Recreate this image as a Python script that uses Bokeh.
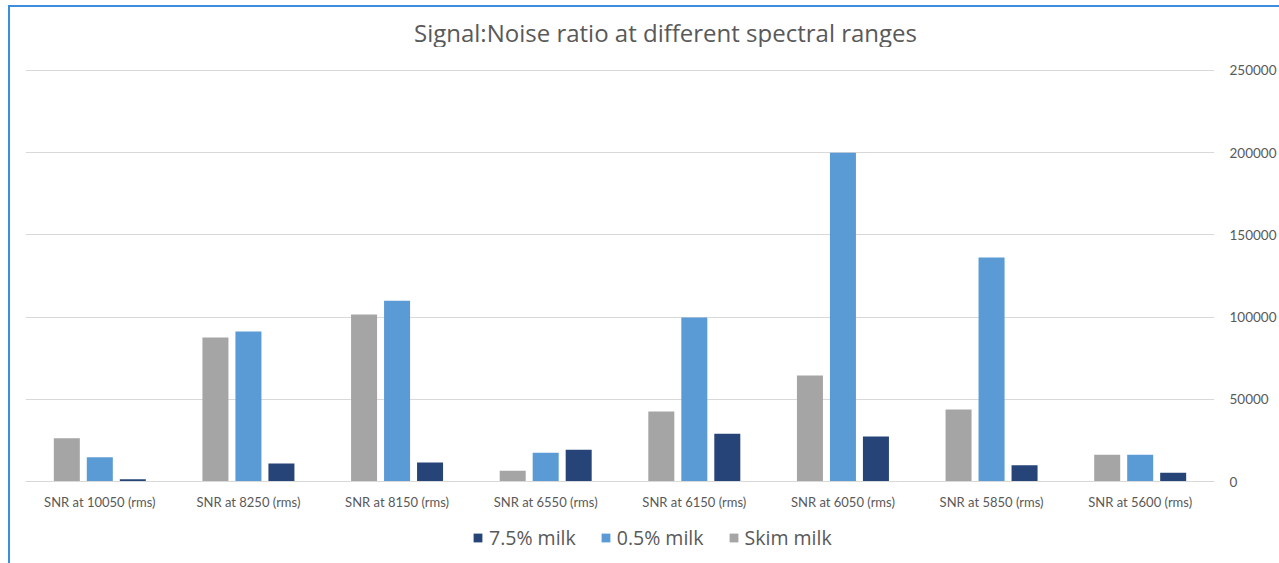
from bokeh.plotting import figure
from bokeh.layouts import column, row
from bokeh.models import (ColumnDataSource, FactorRange, Range1d, LinearAxis, Legend,
                          LegendItem, FixedTicker, NumeralTickFormatter, Spacer, Label)
from bokeh.transform import dodge
from bokeh.embed import file_html
from bokeh.resources import INLINE

# Spectral ranges (x categories)
categories = ["SNR at 10050 (rms)", "SNR at 8250 (rms)", "SNR at 8150 (rms)",
              "SNR at 6550 (rms)", "SNR at 6150 (rms)", "SNR at 6050 (rms)",
              "SNR at 5850 (rms)", "SNR at 5600 (rms)"]

# Signal:noise ratio for each sample
skim_milk = [26300, 87600, 101600, 6500, 42600, 64500, 43800, 16200]
milk_05 = [14800, 91200, 110000, 17500, 99800, 200000, 136300, 16200]
milk_75 = [1400, 10900, 11600, 19300, 29000, 27400, 9900, 5300]

series_names = ["7.5% milk", "0.5% milk", "Skim milk"]
y_ticks = [0, 50000, 100000, 150000, 200000, 250000]
chart_title = "Signal:Noise ratio at different spectral ranges"

FONT = "Lato"
TITLE_FONT = "Open Sans"
TEXT = "#595959"
GRID = "#D9D9D9"
EDGE = "#3B8EDE"
C_SKIM, C_05, C_75 = "#A5A5A5", "#5B9BD5", "#264478"


def strip(height):
    """Plain full-width figure used for the title and legend rows."""
    f = figure(width=1269, height=height, output_backend="svg", toolbar_location=None,
               x_range=Range1d(0, 1), y_range=Range1d(0, 1),
               x_axis_location=None, y_axis_location=None,
               min_border=0, outline_line_color=None)
    f.grid.visible = False
    f.background_fill_color = "white"
    f.border_fill_color = "white"
    return f


# title row
tf = strip(40)
tf.add_layout(Label(x=640, y=15, x_units="screen", y_units="screen", text=chart_title,
                    text_font=TITLE_FONT, text_font_size="24px", text_color=TEXT,
                    text_align="center", text_baseline="alphabetic"))

# main bar chart
src = ColumnDataSource(data=dict(cat=categories, skim=skim_milk, m05=milk_05, m75=milk_75))

p = figure(width=1269, height=473, output_backend="svg", toolbar_location=None,
           x_range=FactorRange(*categories, range_padding=0), y_range=Range1d(0, 250600),
           y_axis_location=None, min_border_left=15, min_border_right=64,
           min_border_top=22, min_border_bottom=39)
p.outline_line_color = None
p.background_fill_color = "white"
p.border_fill_color = "white"

bw = 0.175
step = 0.222
p.vbar(x=dodge("cat", -step, range=p.x_range), top="skim", width=bw, source=src,
       fill_color=C_SKIM, line_color=None)
p.vbar(x=dodge("cat", 0.0, range=p.x_range), top="m05", width=bw, source=src,
       fill_color=C_05, line_color=None)
p.vbar(x=dodge("cat", step, range=p.x_range), top="m75", width=bw, source=src,
       fill_color=C_75, line_color=None)

# category axis
xa = p.xaxis[0]
xa.axis_line_color = GRID
xa.major_tick_line_color = None
xa.minor_tick_line_color = None
xa.major_tick_out = 0
xa.major_tick_in = 0
xa.major_label_text_font = FONT
xa.major_label_text_font_size = "13px"
xa.major_label_text_color = TEXT
xa.major_label_standoff = 12
p.xgrid.grid_line_color = None

# value axis on the right
ya = LinearAxis(ticker=FixedTicker(ticks=y_ticks), formatter=NumeralTickFormatter(format="0"))
ya.axis_line_color = None
ya.major_tick_line_color = None
ya.minor_tick_line_color = None
ya.major_tick_out = 0
ya.major_tick_in = 0
ya.major_label_text_font = FONT
ya.major_label_text_font_size = "13.5px"
ya.major_label_text_color = TEXT
ya.major_label_standoff = 15
p.add_layout(ya, "right")
p.ygrid.grid_line_color = GRID
p.ygrid.ticker = FixedTicker(ticks=y_ticks)

# legend row under the chart (key renderers have zero height, only their swatches show)
lf = strip(43)
keys = [lf.vbar(x=[0.5], top=[0], bottom=[0], width=0.1, fill_color=c, line_color=None)
        for c in (C_75, C_05, C_SKIM)]
legend = Legend(items=[LegendItem(label=n, renderers=[r]) for n, r in zip(series_names, keys)],
                orientation="horizontal", location=(447, 12),
                label_text_font=TITLE_FONT, label_text_font_size="19.5px",
                label_text_color=TEXT,
                glyph_width=11, glyph_height=11, label_standoff=6, spacing=24,
                padding=0, margin=0, border_line_color=None, background_fill_alpha=0)
lf.add_layout(legend, "center")

# chart area edge: thin blue lines along the top and left
top_edge = Spacer(width=1271, height=2, styles={"background-color": EDGE})
left_edge = Spacer(width=2, height=556, styles={"background-color": EDGE})

page = column(Spacer(width=1279, height=5),
              row(Spacer(width=8, height=558),
                  column(top_edge, row(left_edge, column(tf, p, lf)))))

open("out.html", "w").write(file_html(page, INLINE))
